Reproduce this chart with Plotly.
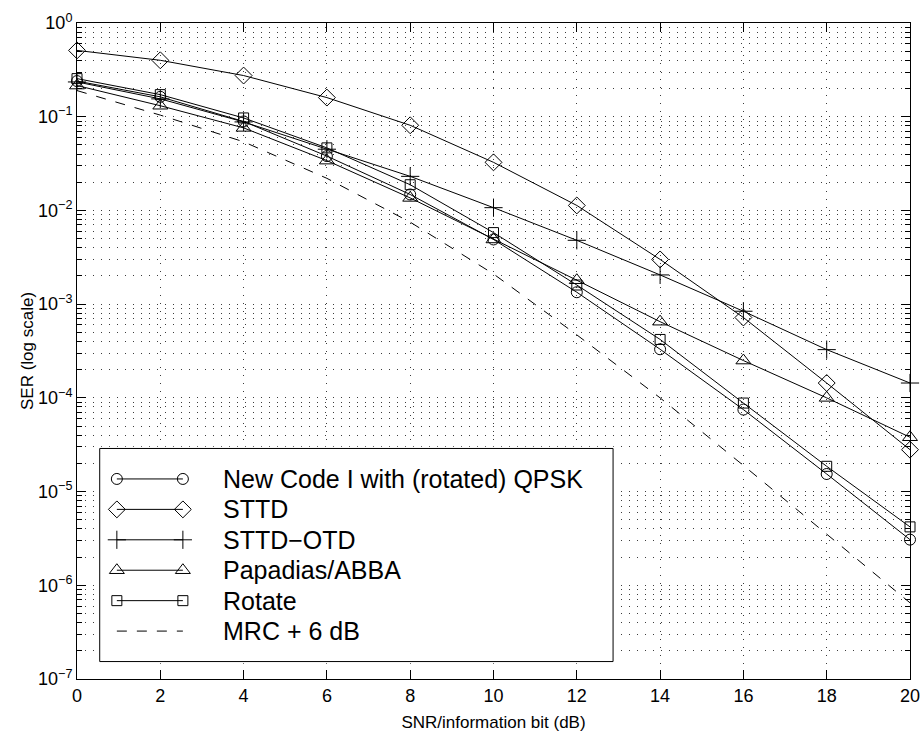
import plotly.graph_objects as go

# ---------------- data ----------------
snr_db = [0, 2, 4, 6, 8, 10, 12, 14, 16, 18, 20]

ser_new_code = [0.240, 0.163, 0.089, 0.038, 0.0148, 0.0049, 0.00134, 3.3e-4, 7.5e-5, 1.54e-5, 3.07e-6]
ser_sttd = [0.51, 0.40, 0.275, 0.160, 0.081, 0.0326, 0.0113, 0.0030, 7.2e-4, 1.44e-4, 2.8e-5]
ser_sttd_otd = [0.235, 0.155, 0.088, 0.045, 0.0231, 0.0107, 0.0048, 0.00205, 8.4e-4, 3.27e-4, 1.44e-4]
ser_papadias = [0.215, 0.131, 0.076, 0.034, 0.0136, 0.0049, 0.0018, 6.5e-4, 2.5e-4, 1.0e-4, 3.8e-5]
ser_rotate = [0.255, 0.172, 0.097, 0.0465, 0.0188, 0.0058, 0.0016, 4.2e-4, 8.8e-5, 1.86e-5, 4.2e-6]
ser_mrc = [0.19, 0.104, 0.054, 0.022, 0.0075, 0.0021, 4.7e-4, 1.0e-4, 1.9e-5, 3.5e-6, 6.5e-7]

series_names = ["New Code I with (rotated) QPSK", "STTD", "STTD\u2212OTD",
                "Papadias/ABBA", "Rotate", "MRC + 6 dB"]

x_tick_vals = [0, 2, 4, 6, 8, 10, 12, 14, 16, 18, 20]
y_tick_exps = [-7, -6, -5, -4, -3, -2, -1, 0]
y_tick_text = ["10<sup>\u22127</sup>", "10<sup>\u22126</sup>", "10<sup>\u22125</sup>",
               "10<sup>\u22124</sup>", "10<sup>\u22123</sup>", "10<sup>\u22122</sup>",
               "10<sup>\u22121</sup>", "10<sup>0</sup>"]

x_title = "SNR/information bit (dB)"
y_title = "SER (log scale)"

# ---------------- styles ----------------
FONT = "Liberation Sans, Arial, Helvetica, sans-serif"
GRID = "rgb(60,60,60)"
GRIDDASH = "1px,7px"

styles = [
    dict(symbol="circle-open", size=11, dash="solid", mode="lines+markers"),
    dict(symbol="diamond-open", size=13, dash="solid", mode="lines+markers"),
    dict(symbol="cross-thin-open", size=13, dash="solid", mode="lines+markers"),
    dict(symbol="triangle-up-open", size=13, dash="solid", mode="lines+markers"),
    dict(symbol="square-open", size=10, dash="solid", mode="lines+markers"),
    dict(symbol="circle", size=1, dash="10px,10px", mode="lines"),
]
series_values = [ser_new_code, ser_sttd, ser_sttd_otd, ser_papadias, ser_rotate, ser_mrc]

fig = go.Figure()

for name, vals, st in zip(series_names, series_values, styles):
    fig.add_trace(go.Scatter(
        x=snr_db, y=vals, name=name, mode=st["mode"],
        line=dict(color="black", width=1, dash=st["dash"]),
        marker=dict(symbol=st["symbol"], size=st["size"], color="black",
                    line=dict(color="black", width=1)),
        showlegend=False, cliponaxis=False, xaxis="x", yaxis="y",
    ))

# ---------------- custom MATLAB-style legend on an overlay subplot ----------------
fig.add_trace(go.Scatter(
    x=[0, 1, 1, 0, 0], y=[0, 0, 1, 1, 0], mode="lines", fill="toself",
    fillcolor="white", line=dict(color="black", width=1),
    showlegend=False, hoverinfo="skip", xaxis="x2", yaxis="y2",
))
row_top, row_step = 0.857, 0.1428
leg_x0, leg_x1, text_x = 0.0334, 0.162, 0.236
for i, (name, st) in enumerate(zip(series_names, styles)):
    ry = row_top - i * row_step
    fig.add_trace(go.Scatter(
        x=[leg_x0, leg_x1], y=[ry, ry], mode=st["mode"],
        line=dict(color="black", width=1, dash=st["dash"]),
        marker=dict(symbol=st["symbol"], size=st["size"], color="black",
                    line=dict(color="black", width=1)),
        showlegend=False, hoverinfo="skip", xaxis="x2", yaxis="y2",
    ))
    fig.add_annotation(x=text_x, y=ry, xref="x2", yref="y2", text=name,
                       showarrow=False, xanchor="left", yanchor="middle",
                       font=dict(family=FONT, size=25, color="black"))

minor_vals = [m * 10.0 ** e for e in range(-7, 0) for m in range(2, 10)]

fig.update_layout(
    width=922, height=732,
    margin=dict(l=77, r=12, t=23, b=53),
    paper_bgcolor="white", plot_bgcolor="white",
    font=dict(family=FONT, size=17, color="black"),
    showlegend=False,
    xaxis=dict(
        range=[0, 20], tickmode="array", tickvals=x_tick_vals,
        ticks="inside", ticklen=9, tickwidth=1, tickcolor="black",
        showline=True, linecolor="black", linewidth=1, mirror="allticks",
        showgrid=True, gridcolor=GRID, griddash=GRIDDASH, gridwidth=1,
        zeroline=False, tickfont=dict(size=18), automargin=False,
        title=dict(text=x_title, font=dict(size=17), standoff=12),
    ),
    yaxis=dict(
        type="log", range=[-7, 0], tickmode="array",
        tickvals=[10.0 ** e for e in y_tick_exps], ticktext=y_tick_text,
        ticks="inside", ticklen=9, tickwidth=1, tickcolor="black",
        showline=True, linecolor="black", linewidth=1, mirror="allticks",
        showgrid=True, gridcolor=GRID, griddash=GRIDDASH, gridwidth=1,
        zeroline=False, tickfont=dict(size=18), automargin=False,
        minor=dict(tickmode="array", tickvals=minor_vals, ticks="inside",
                   ticklen=5, tickcolor="black", showgrid=True,
                   gridcolor=GRID, griddash=GRIDDASH, gridwidth=1),
        title=dict(text=y_title, font=dict(size=17), standoff=0),
    ),
    xaxis2=dict(domain=[0.0248, 0.646], range=[-0.004, 1.004], visible=False,
                anchor="y2", fixedrange=True, automargin=False),
    yaxis2=dict(domain=[0.024, 0.354], range=[-0.008, 1.008], visible=False,
                anchor="x2", fixedrange=True, automargin=False),
)

# Remove the page's default 8px body margin so the 922x732 figure fills the window.
fig.write_html("out.html",
               config={"displayModeBar": False},
               post_script="document.body.style.margin='0';"
                           "document.body.style.overflow='hidden';")
